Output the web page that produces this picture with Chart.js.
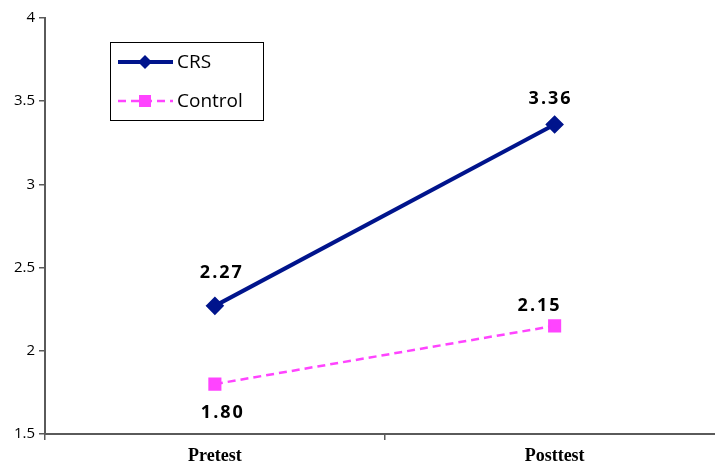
<!DOCTYPE html>
<html>
<head>
<meta charset="utf-8">
<script src="https://cdn.jsdelivr.net/npm/chart.js@4"></script>
<style>
  html, body { margin: 0; padding: 0; background: #fff; overflow: hidden; }
</style>
</head>
<body>
<canvas id="chart" width="735" height="469"></canvas>
<script>
// ── data ──
var categories = ['Pretest', 'Posttest'];
var crsValues = [2.27, 3.36];
var controlValues = [1.80, 2.15];
var yTicks = [1.5, 2, 2.5, 3, 3.5, 4];

var NAVY = '#00148c';
var PINK = '#ff44ff';
var AXIS = '#5a5a5a';

// value labels drawn next to each point
var valueLabels = {
    id: 'valueLabels',
    afterDatasetsDraw: function (chart) {
        var ctx = chart.ctx;
        ctx.save();
        ctx.font = 'bold 18px "Open Sans", sans-serif';
        ctx.letterSpacing = '2px';
        ctx.fillStyle = '#000';
        ctx.textAlign = 'center';
        ctx.textBaseline = 'middle';
        chart.data.datasets.forEach(function (ds, i) {
            var meta = chart.getDatasetMeta(i);
            meta.data.forEach(function (pt, j) {
                var dy = ds.labelPos[j] === 'below' ? ds.labelGap[j] : -ds.labelGap[j];
                ctx.fillText(ds.data[j].toFixed(2), pt.x + ds.labelShift[j], pt.y + dy);
            });
        });
        ctx.restore();
    }
};

// legend box inside the plot, like the original
var boxLegend = {
    id: 'boxLegend',
    afterDraw: function (chart) {
        var ctx = chart.ctx;
        var x = 110, y = 42, w = 153, h = 78;
        ctx.save();
        ctx.fillStyle = '#fff';
        ctx.fillRect(x, y, w, h);
        ctx.strokeStyle = '#000';
        ctx.lineWidth = 1;
        ctx.strokeRect(x + 0.5, y + 0.5, w, h);
        chart.data.datasets.forEach(function (ds, i) {
            var ly = y + 20 + i * 39;
            ctx.strokeStyle = ds.borderColor;
            ctx.lineWidth = ds.borderWidth;
            ctx.setLineDash(ds.borderDash || []);
            ctx.beginPath();
            ctx.moveTo(x + 8, ly);
            ctx.lineTo(x + 63, ly);
            ctx.stroke();
            ctx.setLineDash([]);
            ctx.fillStyle = ds.pointBackgroundColor;
            ctx.beginPath();
            var cx = x + 35, r = 6;
            if (ds.pointStyle === 'rectRot') {
                ctx.moveTo(cx, ly - r - 1); ctx.lineTo(cx + r + 1, ly);
                ctx.lineTo(cx, ly + r + 1); ctx.lineTo(cx - r - 1, ly);
                ctx.closePath();
            } else {
                ctx.rect(cx - r, ly - r, r * 2, r * 2);
            }
            ctx.fill();
            ctx.fillStyle = '#000';
            ctx.font = '19px "Open Sans", sans-serif';
            ctx.textBaseline = 'middle';
            ctx.fillText(ds.label, x + 67, ly + 1);
        });
        ctx.restore();
    }
};

var ctx = document.getElementById('chart').getContext('2d');
new Chart(ctx, {
    type: 'line',
    data: {
        labels: categories,
        datasets: [{
            label: 'CRS',
            data: crsValues,
            borderColor: NAVY,
            backgroundColor: NAVY,
            pointBackgroundColor: NAVY,
            pointBorderColor: NAVY,
            borderWidth: 4,
            pointStyle: 'rectRot',
            pointRadius: 6.5,
            labelPos: ['above', 'above'],
            labelShift: [7, -4],
            labelGap: [33, 26]
        }, {
            label: 'Control',
            data: controlValues,
            borderColor: PINK,
            backgroundColor: PINK,
            pointBackgroundColor: PINK,
            pointBorderColor: PINK,
            borderWidth: 2.5,
            borderDash: [8, 5],
            pointStyle: 'rect',
            pointRadius: 7.5,
            labelPos: ['below', 'above'],
            labelShift: [8, -15],
            labelGap: [29, 20]
        }]
    },
    options: {
        responsive: false,
        animation: false,
        layout: { padding: { top: 18, right: 0, left: 0, bottom: 0 } },
        plugins: { legend: { display: false }, tooltip: { enabled: false } },
        scales: {
            x: {
                offset: true,
                grid: { offset: true, drawOnChartArea: false, tickLength: 6, color: AXIS, lineWidth: 1.5 },
                border: { color: AXIS, width: 2 },
                ticks: {
                    color: '#000',
                    padding: 6,
                    font: { family: '"Liberation Serif", serif', weight: 'bold', size: 18 }
                },
                afterFit: function (s) { s.height = 35; }
            },
            y: {
                min: 1.5,
                max: 4,
                afterBuildTicks: function (s) { s.ticks = yTicks.map(function (v) { return { value: v }; }); },
                grid: { drawOnChartArea: false, tickLength: 6, color: AXIS, lineWidth: 1.5 },
                border: { color: AXIS, width: 2 },
                ticks: {
                    color: '#000',
                    padding: 4,
                    font: { family: '"Open Sans", sans-serif', size: 15 },
                    callback: function (v) { return String(v); }
                },
                afterFit: function (s) { s.width = 45; }
            }
        }
    },
    plugins: [valueLabels, boxLegend]
});
</script>
</body>
</html>
